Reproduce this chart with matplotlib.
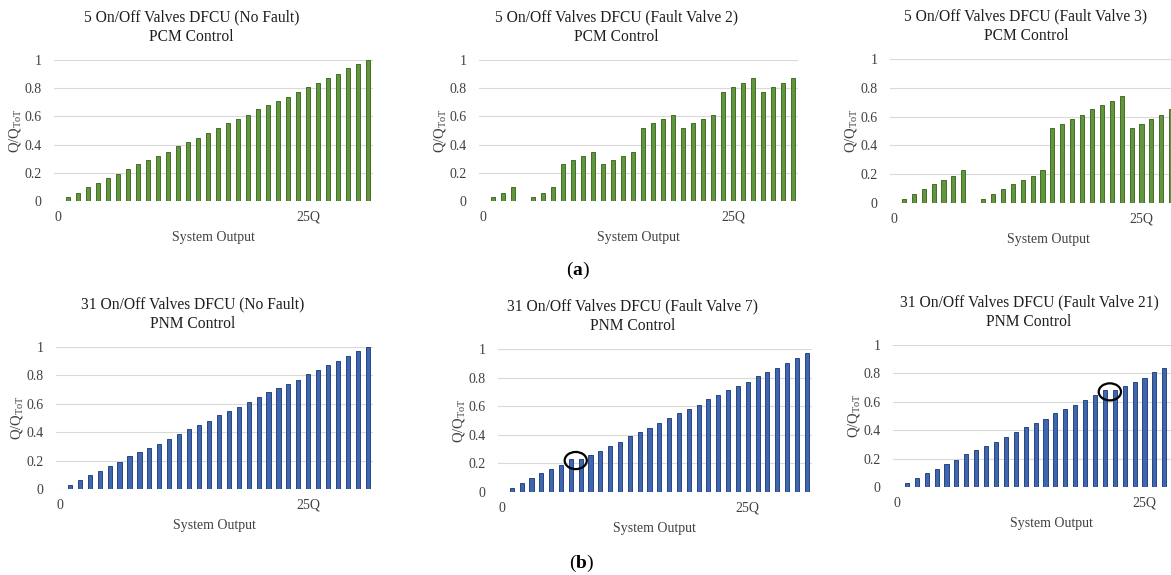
import matplotlib
matplotlib.use('Agg')
import matplotlib.pyplot as plt
from matplotlib.patches import Ellipse
import numpy as np

plt.rcParams['font.family'] = 'Liberation Serif'
plt.rcParams['mathtext.fontset'] = 'custom'
plt.rcParams['mathtext.rm'] = 'Liberation Serif'
plt.rcParams['mathtext.bf'] = 'Liberation Serif:bold'

# system output steps 1..31
steps = np.arange(1, 32)

# 5 on/off valves, PCM control (Q/QToT)
pcm_no_fault = [0.03, 0.06, 0.10, 0.13, 0.16, 0.19, 0.23, 0.26, 0.29, 0.32, 0.35, 0.39, 0.42, 0.45, 0.48, 0.52,
                0.55, 0.58, 0.61, 0.65, 0.68, 0.71, 0.74, 0.77, 0.81, 0.84, 0.87, 0.90, 0.94, 0.97, 1.00]
pcm_fault_v2 = [0.03, 0.06, 0.10, 0.00, 0.03, 0.06, 0.10, 0.26, 0.29, 0.32, 0.35, 0.26, 0.29, 0.32, 0.35, 0.52,
                0.55, 0.58, 0.61, 0.52, 0.55, 0.58, 0.61, 0.77, 0.81, 0.84, 0.87, 0.77, 0.81, 0.84, 0.87]
pcm_fault_v3 = [0.03, 0.06, 0.10, 0.13, 0.16, 0.19, 0.23, 0.00, 0.03, 0.06, 0.10, 0.13, 0.16, 0.19, 0.23, 0.52,
                0.55, 0.58, 0.61, 0.65, 0.68, 0.71, 0.74, 0.52, 0.55, 0.58, 0.61, 0.65, 0.68, 0.71, 0.74]

# 31 on/off valves, PNM control
pnm_no_fault = [0.03, 0.06, 0.10, 0.13, 0.16, 0.19, 0.23, 0.26, 0.29, 0.32, 0.35, 0.39, 0.42, 0.45, 0.48, 0.52,
                0.55, 0.58, 0.61, 0.65, 0.68, 0.71, 0.74, 0.77, 0.81, 0.84, 0.87, 0.90, 0.94, 0.97, 1.00]
pnm_fault_v7 = [0.03, 0.06, 0.10, 0.13, 0.16, 0.19, 0.23, 0.23, 0.26, 0.29, 0.32, 0.35, 0.39, 0.42, 0.45, 0.48,
                0.52, 0.55, 0.58, 0.61, 0.65, 0.68, 0.71, 0.74, 0.77, 0.81, 0.84, 0.87, 0.90, 0.94, 0.97]
pnm_fault_v21 = [0.03, 0.06, 0.10, 0.13, 0.16, 0.19, 0.23, 0.26, 0.29, 0.32, 0.35, 0.39, 0.42, 0.45, 0.48, 0.52,
                 0.55, 0.58, 0.61, 0.65, 0.68, 0.68, 0.71, 0.74, 0.77, 0.81, 0.84, 0.87, 0.90, 0.94, 0.97]

titles = ['5 On/Off Valves DFCU (No Fault)\nPCM Control',
          '5 On/Off Valves DFCU (Fault Valve 2)\nPCM Control',
          '5 On/Off Valves DFCU (Fault Valve 3)\nPCM Control',
          '31 On/Off Valves DFCU (No Fault)\nPNM Control',
          '31 On/Off Valves DFCU (Fault Valve 7)\nPNM Control',
          '31 On/Off Valves DFCU (Fault Valve 21)\nPNM Control']
series = [pcm_no_fault, pcm_fault_v2, pcm_fault_v3, pnm_no_fault, pnm_fault_v7, pnm_fault_v21]

# circled repeated step: (panel, centre step, centre value)
circles = [(4, 7.5, 0.22), (5, 21.5, 0.67)]

y_ticks = [0, 0.2, 0.4, 0.6, 0.8, 1]
y_tick_labels = ['0', '0.2', '0.4', '0.6', '0.8', '1']
x_ticks = [0, 25]
x_tick_labels = ['0', '25Q']

W, H = 1171, 575
fig = plt.figure(figsize=(W / 100, H / 100), dpi=100)

# pixel layout per panel: x of "0", px per step, y of 1, y of 0
layout = [(58, 10.0, 60, 201), (483, 10.0, 60, 201), (894, 9.9, 59, 203),
          (60, 9.93, 347, 489), (502, 9.83, 349, 492), (897, 9.9, 345, 487)]
xlo, xhi = -0.4, 31.5

for i, (x0, step, ytop, ybot) in enumerate(layout):
    left = x0 + xlo * step
    wpx = (xhi - xlo) * step
    hpx = ybot - ytop
    ax = fig.add_axes([left / W, 1 - ybot / H, wpx / W, hpx / H])
    if i < 3:
        ax.bar(steps, series[i], width=0.42, color='#62963C', edgecolor='#446E27', linewidth=0.7)
    else:
        ax.bar(steps, series[i], width=0.42, color='#4166B0', edgecolor='#27457F', linewidth=0.7)
    ax.set_xlim(xlo, xhi)
    ax.set_ylim(0, 1.0)
    ax.set_axisbelow(True)
    ax.yaxis.grid(True, color='#D9D9D9', linewidth=0.8)
    for s in ax.spines.values():
        s.set_visible(False)
    ax.set_yticks(y_ticks)
    ax.set_yticklabels(y_tick_labels)
    ax.set_xticks(x_ticks)
    ax.set_xticklabels(x_tick_labels)
    ax.tick_params(axis='both', length=0, labelsize=10, colors='#404040')
    ax.tick_params(axis='x', pad=7)
    ax.tick_params(axis='y', pad=9)
    ax.set_ylabel(r'$\mathregular{Q/Q_{ToT}}$', fontsize=10.5, color='#404040')
    ax.yaxis.set_label_coords(-31 / wpx, 0.5)
    ax.set_xlabel('System Output', fontsize=10, color='#404040')
    ax.xaxis.set_label_coords(0.5, -30 / hpx)
    ax.text(0.5 - 22 / wpx, 1 + 33 / hpx, titles[i], transform=ax.transAxes, ha='center', va='center',
            fontsize=11.2, linespacing=1.3, color='#1F1F1F')
    for p, cx, cy in circles:
        if p == i:
            ax.add_patch(Ellipse((cx, cy), 2.25, 0.12, fill=False, edgecolor='black', linewidth=1.6))

fig.text(578 / W, 1 - 270 / H, r'($\mathbf{a}$)', ha='center', va='center', fontsize=14)
fig.text(582 / W, 1 - 563 / H, r'($\mathbf{b}$)', ha='center', va='center', fontsize=14)

fig.savefig('out.png', dpi=100)
